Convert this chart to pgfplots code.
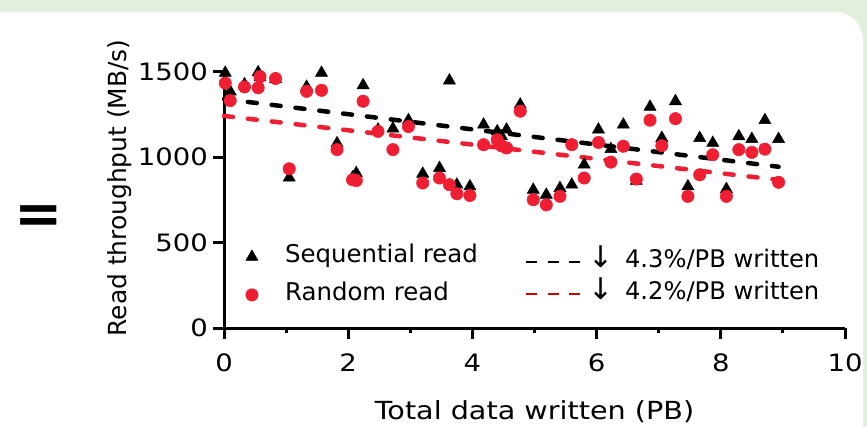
\documentclass[border=0pt]{standalone}
\usepackage{pgfplots}
\pgfplotsset{compat=1.18}
\usepackage{fontspec}
\setmainfont{DejaVu Sans}
\newfontfamily\widefont{DejaVu Sans}[FakeStretch=1.15]
\definecolor{bggreen}{RGB}{226,239,218}
\definecolor{dotred}{RGB}{240,30,50}
\definecolor{legred}{RGB}{200,0,0}
\pgfplotsset{legdash/.style={legend image code/.code={\draw[##1, dash pattern=on 11bp off 10.5bp] (0bp,0bp) -- (55bp,0bp);}}}
\newcommand{\darr}{{\fontsize{30}{30}\selectfont ↓}}

\pgfplotstableread{
x y
0.02 1492
0.10 1383
0.33 1425
0.55 1495
0.58 1465
0.83 1455
1.05 879
1.33 1410
1.57 1492
1.82 1080
2.07 880
2.13 906
2.24 1419
2.48 1160
2.72 1166
2.97 1215
3.20 902
3.47 935
3.63 1447
3.75 838
3.96 828
4.18 1189
4.40 1150
4.47 1120
4.55 1160
4.77 1306
4.98 808
5.19 779
5.41 818
5.60 838
5.80 955
6.03 1160
6.23 1046
6.43 1189
6.64 860
6.86 1293
7.05 1111
7.27 1326
7.47 828
7.66 1111
7.87 1082
8.09 812
8.29 1121
8.50 1105
8.71 1215
8.93 1105
}\seqdata

\pgfplotstableread{
x y
0.02 1432
0.10 1330
0.33 1410
0.55 1405
0.58 1470
0.83 1459
1.05 931
1.33 1384
1.57 1390
1.82 1043
2.07 867
2.13 862
2.24 1326
2.48 1150
2.72 1043
2.97 1178
3.20 848
3.47 877
3.63 838
3.75 785
3.96 775
4.18 1072
4.40 1101
4.47 1065
4.55 1053
4.77 1268
4.98 750
5.19 720
5.41 770
5.60 1072
5.80 877
6.03 1085
6.23 970
6.43 1063
6.64 871
6.86 1215
7.05 1066
7.27 1224
7.47 770
7.66 896
7.87 1013
8.09 770
8.29 1043
8.50 1027
8.71 1046
8.93 852
}\randdata

\begin{document}
\begin{tikzpicture}[x=1bp,y=1bp]
\useasboundingbox (0,0) rectangle (867,427);
\fill[bggreen] (0,0) rectangle (867,427);
\fill[white, rounded corners=28bp] (-40,-40) rectangle (863,415);
\node[font=\fontsize{58}{58}\selectfont\bfseries, inner sep=0pt] at (38.5,207) {=};

\begin{axis}[
  at={(224bp,99bp)}, anchor=south west,
  scale only axis, width=621bp, height=256.5bp,
  xmin=0, xmax=10, ymin=0, ymax=1500,
  clip=false,
  axis lines=left,
  axis line style={line width=3bp, -, black},
  xtick={0,2,4,6,8,10},
  minor xtick={1,3,5,7,9},
  ytick={0,500,1000,1500},
  tick align=outside,
  major tick length=11bp,
  minor tick length=5bp,
  every tick/.style={line width=3bp, black},
  /pgf/number format/assume math mode=true,
  /pgf/number format/set thousands separator={},
  xticklabel style={font=\widefont\fontsize{24}{24}\selectfont, inner sep=0pt, anchor=center, yshift=-24bp},
  yticklabel style={font=\widefont\fontsize{24}{24}\selectfont, inner sep=0pt, anchor=east, xshift=-5bp},
  xlabel={Total data written (PB)},
  xlabel style={font=\widefont\fontsize{25}{25}\selectfont, at={(axis description cs:0.5,-0.327)}, anchor=center},
  ylabel={Read throughput (MB/s)},
  ylabel style={font=\fontsize{25}{25}\selectfont, at={(axis description cs:-0.1675,0.546)}, anchor=center},
  legend style={draw=none, fill=none, inner sep=0pt, outer sep=0pt,
    at={(axis description cs:0.035,0.203)}, anchor=west,
    font=\fontsize{24.5}{24.5}\selectfont,
    nodes={inner sep=0pt, text height=17bp, text depth=5bp},
    row sep=16bp,
    /tikz/every odd column/.append style={column sep=27bp}},
  legend cell align=left,
]
\addplot[only marks, mark=triangle*, mark size=7bp, mark options={fill=black, draw=black, line width=0.5bp}] table[x=x,y=y] {\seqdata};
\addlegendentry{Sequential read}
\addplot[only marks, mark=*, mark size=6.2bp, mark options={fill=dotred, draw=dotred, line width=0.5bp}] table[x=x,y=y] {\randdata};
\addlegendentry{Random read}
\addplot[forget plot, black, line width=4.5bp, dash pattern=on 9bp off 15bp, line cap=round] coordinates {(0,1339) (8.93,943)};
\addplot[forget plot, dotred, line width=4.5bp, dash pattern=on 9bp off 15bp, line cap=round] coordinates {(0,1240) (8.93,866)};
\end{axis}

\begin{axis}[
  at={(224bp,99bp)}, anchor=south west,
  scale only axis, width=621bp, height=256.5bp,
  xmin=0, xmax=10, ymin=0, ymax=1500,
  hide axis,
  legend style={draw=none, fill=none, inner sep=0pt, outer sep=0pt,
    at={(axis description cs:0.4847,0.196)}, anchor=west,
    font=\fontsize{24.3}{24.3}\selectfont,
    nodes={inner sep=0pt, text height=17bp, text depth=5bp},
    row sep=10bp,
    /tikz/every odd column/.append style={column sep=6bp}},
  legend cell align=left,
]
\addlegendimage{black, line width=2bp, legdash}
\addlegendentry{\darr\hspace{12bp}4.3\%/PB written}
\addlegendimage{legred, line width=2bp, legdash}
\addlegendentry{\darr\hspace{12bp}4.2\%/PB written}
\end{axis}
\end{tikzpicture}
\end{document}
